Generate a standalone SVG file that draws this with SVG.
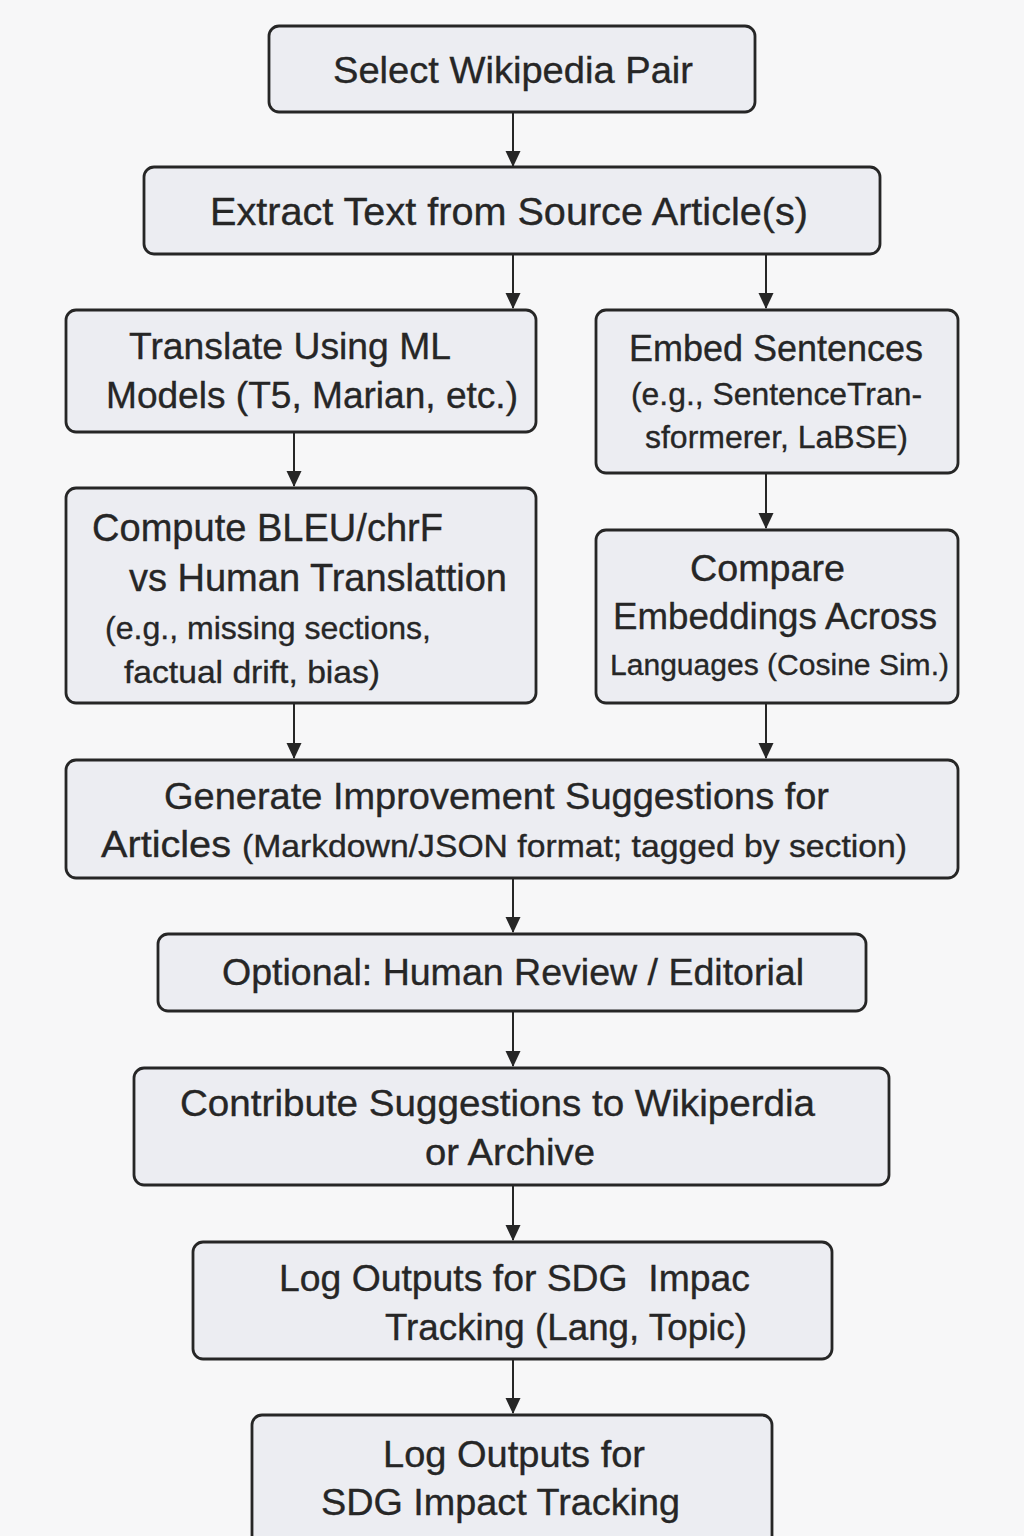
<svg xmlns="http://www.w3.org/2000/svg" width="1024" height="1536" viewBox="0 0 1024 1536">
<style>
.box{fill:#ecedf2;stroke:#262626;stroke-width:2.8}
.t{font-family:"Liberation Sans",Arial,sans-serif;fill:#262626;stroke:#262626;stroke-width:0.35;white-space:pre}
.l{font-size:37px}
.m{font-size:32px}
.s{font-size:30px}
.c{stroke:#262626;stroke-width:2;fill:none}
</style>
<defs>
<marker id="ah" markerUnits="userSpaceOnUse" markerWidth="16" markerHeight="16" viewBox="0 0 16 16" refX="15" refY="8" orient="auto">
<path d="M0,0.5 L16,8 L0,15.5 Z" fill="#262626"/>
</marker>
</defs>
<rect width="1024" height="1536" fill="#f7f7f8"/>
<g id="connectors">
<line class="c" x1="513" y1="112" x2="513" y2="166" marker-end="url(#ah)"/>
<line class="c" x1="513" y1="254" x2="513" y2="308" marker-end="url(#ah)"/>
<line class="c" x1="766" y1="254" x2="766" y2="308" marker-end="url(#ah)"/>
<line class="c" x1="294" y1="432" x2="294" y2="486" marker-end="url(#ah)"/>
<line class="c" x1="766" y1="473" x2="766" y2="528" marker-end="url(#ah)"/>
<line class="c" x1="294" y1="703" x2="294" y2="758" marker-end="url(#ah)"/>
<line class="c" x1="766" y1="703" x2="766" y2="758" marker-end="url(#ah)"/>
<line class="c" x1="513" y1="878" x2="513" y2="932" marker-end="url(#ah)"/>
<line class="c" x1="513" y1="1011" x2="513" y2="1066" marker-end="url(#ah)"/>
<line class="c" x1="513" y1="1185" x2="513" y2="1240" marker-end="url(#ah)"/>
<line class="c" x1="513" y1="1359" x2="513" y2="1413" marker-end="url(#ah)"/>
</g>
<g id="n1">
<rect class="box" x="269" y="26" width="486" height="86" rx="10"/>
<text class="t l" x="333" y="83" textLength="360" lengthAdjust="spacingAndGlyphs">Select Wikipedia Pair</text>
</g>
<g id="n2">
<rect class="box" x="144" y="167" width="736" height="87" rx="10"/>
<text class="t l" x="210" y="225" style="font-size:39px" textLength="598" lengthAdjust="spacingAndGlyphs">Extract Text from Source Article(s)</text>
</g>
<g id="n3">
<rect class="box" x="66" y="310" width="470" height="122" rx="10"/>
<text class="t l" x="129" y="359" textLength="322" lengthAdjust="spacingAndGlyphs">Translate Using ML</text>
<text class="t l" x="106" y="408" textLength="412" lengthAdjust="spacingAndGlyphs">Models (T5, Marian, etc.)</text>
</g>
<g id="n4">
<rect class="box" x="596" y="310" width="362" height="163" rx="10"/>
<text class="t l" x="629" y="361" textLength="294" lengthAdjust="spacingAndGlyphs">Embed Sentences</text>
<text class="t m" x="631" y="405" textLength="291" lengthAdjust="spacingAndGlyphs">(e.g., SentenceTran-</text>
<text class="t m" x="645" y="448" textLength="263" lengthAdjust="spacingAndGlyphs">sformerer, LaBSE)</text>
</g>
<g id="n5">
<rect class="box" x="66" y="488" width="470" height="215" rx="10"/>
<text class="t l" x="92" y="541" style="font-size:39px" textLength="351" lengthAdjust="spacingAndGlyphs">Compute BLEU/chrF</text>
<text class="t l" x="129" y="591" style="font-size:39px" textLength="378" lengthAdjust="spacingAndGlyphs">vs Human Translattion</text>
<text class="t m" x="105" y="639" textLength="326" lengthAdjust="spacingAndGlyphs">(e.g., missing sections,</text>
<text class="t m" x="124" y="683" textLength="256" lengthAdjust="spacingAndGlyphs">factual drift, bias)</text>
</g>
<g id="n6">
<rect class="box" x="596" y="530" width="362" height="173" rx="10"/>
<text class="t l" x="690" y="581" textLength="155" lengthAdjust="spacingAndGlyphs">Compare</text>
<text class="t l" x="613" y="629" textLength="324" lengthAdjust="spacingAndGlyphs">Embeddings Across</text>
<text class="t s" x="610" y="675" textLength="339" lengthAdjust="spacingAndGlyphs">Languages (Cosine Sim.)</text>
</g>
<g id="n7">
<rect class="box" x="66" y="760" width="892" height="118" rx="10"/>
<text class="t l" x="164" y="809" textLength="665" lengthAdjust="spacingAndGlyphs">Generate Improvement Suggestions for</text>
<text class="t l" x="101" y="857" textLength="130" lengthAdjust="spacingAndGlyphs">Articles</text>
<text class="t m" x="242" y="857" textLength="665" lengthAdjust="spacingAndGlyphs">(Markdown/JSON format; tagged by section)</text>
</g>
<g id="n8">
<rect class="box" x="158" y="934" width="708" height="77" rx="10"/>
<text class="t l" x="222" y="985" textLength="582" lengthAdjust="spacingAndGlyphs">Optional: Human Review / Editorial</text>
</g>
<g id="n9">
<rect class="box" x="134" y="1068" width="755" height="117" rx="10"/>
<text class="t l" x="180" y="1116" textLength="635" lengthAdjust="spacingAndGlyphs">Contribute Suggestions to Wikiperdia</text>
<text class="t l" x="425" y="1165" textLength="170" lengthAdjust="spacingAndGlyphs">or Archive</text>
</g>
<g id="n10">
<rect class="box" x="193" y="1242" width="639" height="117" rx="10"/>
<text class="t l" x="279" y="1291" textLength="471" lengthAdjust="spacingAndGlyphs">Log Outputs for SDG  Impac</text>
<text class="t l" x="385" y="1340" textLength="362" lengthAdjust="spacingAndGlyphs">Tracking (Lang, Topic)</text>
</g>
<g id="n11">
<rect class="box" x="252" y="1415" width="520" height="140" rx="10"/>
<text class="t l" x="383" y="1467" textLength="262" lengthAdjust="spacingAndGlyphs">Log Outputs for</text>
<text class="t l" x="321" y="1515" textLength="359" lengthAdjust="spacingAndGlyphs">SDG Impact Tracking</text>
</g>
</svg>
